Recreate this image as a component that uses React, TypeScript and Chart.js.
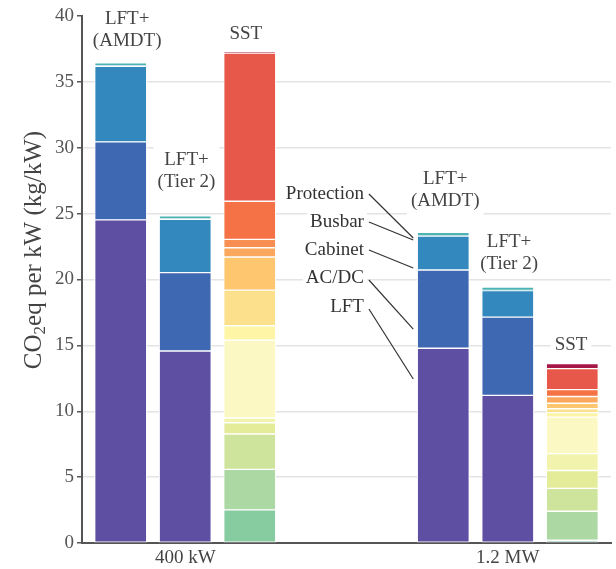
import React, { useEffect, useRef } from "react";
import { Chart, registerables } from "chart.js";

Chart.register(...registerables);

// ---------- data ----------
const groupLabels = ["400 kW", "1.2 MW"];
const groupTickPositions = [1, 6];

// LFT-based designs: 400 kW AMDT, 400 kW Tier 2, 1.2 MW AMDT, 1.2 MW Tier 2
const lftPositions = [0, 1, 5, 6];
const lftComponentNames = ["LFT", "AC/DC", "Cabinet", "Busbar", "Protection"];
const lftLFT = [24.52, 14.57, 14.78, 11.21];
const lftACDC = [5.92, 5.95, 5.94, 5.94];
const lftCabinet = [5.74, 4.05, 2.58, 2.0];
const lftBusbar = [0.03, 0.03, 0.03, 0.03];
const lftProtection = [0.24, 0.24, 0.25, 0.25];
const lftColors = ["#5e4fa2", "#3e68b1", "#3389bd", "#3f9fb8", "#4db3b3"];

// SST designs: 400 kW, 1.2 MW (components bottom -> top)
const sstPositions = [2, 7];
const sst400 = [2.52, 3.07, 2.68, 0.86, 0.36, 5.9, 1.1, 2.7, 2.52, 0.7, 0.63, 2.9, 11.25, 0.12];
const sst1200 = [0.21, 2.2, 1.74, 1.35, 1.28, 2.78, 0.33, 0.3, 0.42, 0.51, null, 0.52, 1.59, 0.39];
const sstColors = [
  "#87cba1", "#acd9a3", "#cee49c", "#e4ec99", "#f2f4ae", "#fbf8c3", "#fef5a6",
  "#fde08b", "#fec66f", "#fca75e", "#f98e52", "#f47245", "#e8584a", "#a51649",
];

// text annotations (label block: x in axis units, y = centre of last line in axis units)
const barLabels = [
  { x: 0.1, y: 38.1, lines: ["LFT+", "(AMDT)"] },
  { x: 1.02, y: 27.4, lines: ["LFT+", "(Tier 2)"] },
  { x: 1.94, y: 38.6, lines: ["SST"] },
  { x: 5.03, y: 25.96, lines: ["LFT+", "(AMDT)"] },
  { x: 6.02, y: 21.18, lines: ["LFT+", "(Tier 2)"] },
  { x: 6.98, y: 15.03, lines: ["SST"] },
];
const legendTextX = 3.77;
const legendTextY = [26.49, 24.36, 22.24, 20.11, 17.91]; // Protection, Busbar, Cabinet, AC/DC, LFT
const legendNames = ["Protection", "Busbar", "Cabinet", "AC/DC", "LFT"];
const legendStartY = [26.49, 24.36, 22.24, 19.96, 17.76];
const legendEndY = [23.15, 23.0, 20.87, 16.24, 12.45];

const FONT = "'Liberation Serif', 'DejaVu Serif', serif";
const TEXT = "#444444";

export default function App() {
  const ref = useRef<HTMLCanvasElement | null>(null);

  useEffect(() => {
    if (!ref.current) return;

    const lftSeries = [lftLFT, lftACDC, lftCabinet, lftBusbar, lftProtection];
    const datasets: any[] = [];
    lftSeries.forEach((vals, i) => {
      datasets.push({
        label: lftComponentNames[i],
        data: vals.map((v, j) => ({ x: lftPositions[j], y: v })),
        backgroundColor: lftColors[i],
      });
    });
    sstColors.forEach((c, i) => {
      datasets.push({
        label: "SST " + (i + 1),
        data: [
          { x: sstPositions[0], y: sst400[i] },
          { x: sstPositions[1], y: sst1200[i] },
        ],
        backgroundColor: c,
      });
    });
    datasets.forEach((d) => {
      d.borderColor = "#ffffff";
      d.borderWidth = 1;
      d.borderSkipped = false;
      d.barThickness = 52;
    });

    const annot = {
      id: "annot",
      beforeDatasetsDraw(chart: any) {
        const { ctx, scales } = chart;
        const xs = scales.x;
        const ys = scales.y;
        ctx.save();
        ctx.font = `19px ${FONT}`;
        ctx.textBaseline = "middle";
        // bar labels
        barLabels.forEach((b) => {
          const cx = xs.getPixelForValue(b.x);
          const cy = ys.getPixelForValue(b.y);
          const n = b.lines.length;
          const w = Math.max(...b.lines.map((l) => ctx.measureText(l).width));
          const top = cy - (n - 1) * 22 - 11 - 4;
          const bottom = cy + 11 + 4;
          ctx.fillStyle = "#ffffff";
          ctx.fillRect(cx - w / 2 - 4, top, w + 8, bottom - top);
          ctx.fillStyle = TEXT;
          ctx.textAlign = "center";
          b.lines.forEach((l, k) => {
            ctx.fillText(l, cx, cy - (n - 1 - k) * 22);
          });
        });
        // component legend
        const tx = xs.getPixelForValue(legendTextX);
        const ex = xs.getPixelForValue(lftPositions[2]) - 26 - 4;
        legendNames.forEach((name, i) => {
          const ty = ys.getPixelForValue(legendTextY[i]);
          const w = ctx.measureText(name).width;
          ctx.fillStyle = "#ffffff";
          ctx.fillRect(tx - w - 3, ty - 12, w + 6, 24);
          ctx.fillStyle = "#333333";
          ctx.textAlign = "right";
          ctx.fillText(name, tx, ty);
          ctx.strokeStyle = "#333333";
          ctx.lineWidth = 1.2;
          ctx.beginPath();
          ctx.moveTo(tx + 5, ys.getPixelForValue(legendStartY[i]));
          ctx.lineTo(ex, ys.getPixelForValue(legendEndY[i]));
          ctx.stroke();
        });
        ctx.restore();
      },
      afterDraw(chart: any) {
        const { ctx } = chart;
        ctx.save();
        ctx.fillStyle = TEXT;
        ctx.textBaseline = "middle";
        ctx.textAlign = "left";
        const big = `25px ${FONT}`;
        const small = `17px ${FONT}`;
        ctx.font = big;
        const a = "CO";
        const c = "eq per kW (kg/kW)";
        const wa = ctx.measureText(a).width;
        const wc = ctx.measureText(c).width;
        ctx.font = small;
        const wb = ctx.measureText("2").width;
        const total = wa + wb + wc;
        ctx.translate(34, 250);
        ctx.rotate(-Math.PI / 2);
        let x = -total / 2;
        ctx.font = big;
        ctx.fillText(a, x, 0);
        x += wa;
        ctx.font = small;
        ctx.fillText("2", x, 7);
        x += wb;
        ctx.font = big;
        ctx.fillText(c, x, 0);
        ctx.restore();
      },
    };

    const chart = new Chart(ref.current, {
      type: "bar",
      data: { datasets },
      plugins: [annot],
      options: {
        animation: false,
        responsive: true,
        maintainAspectRatio: false,
        layout: { padding: { left: 0, right: 5, top: 16, bottom: 0 } },
        plugins: { legend: { display: false }, tooltip: { enabled: false }, title: { display: false } },
        scales: {
          x: {
            type: "linear",
            stacked: true,
            offset: false,
            min: -0.6,
            max: 7.6,
            afterBuildTicks: (s: any) => {
              s.ticks = groupTickPositions.map((v) => ({ value: v }));
            },
            afterFit: (s: any) => {
              s.height = 26;
            },
            ticks: {
              autoSkip: false,
              maxRotation: 0,
              padding: 4,
              color: TEXT,
              font: { family: FONT, size: 19 },
              callback: (v: any) => {
                const i = groupTickPositions.indexOf(Number(v));
                return i >= 0 ? groupLabels[i] : "";
              },
            },
            grid: { display: false, drawTicks: false },
            border: { display: true, color: "#555555", width: 2 },
          },
          y: {
            stacked: true,
            min: 0,
            max: 40,
            afterFit: (s: any) => {
              s.width = 82;
            },
            ticks: {
              stepSize: 5,
              padding: 3,
              color: "#555555",
              font: { family: FONT, size: 19 },
            },
            grid: {
              color: (ctx: any) =>
                ctx.tick && (ctx.tick.value === 0 || ctx.tick.value === 40) ? "rgba(0,0,0,0)" : "#e4e4e4",
              lineWidth: 1.5,
              tickColor: "#555555",
              tickLength: 5,
              tickWidth: 1.5,
            },
            border: { display: true, color: "#555555", width: 2 },
            title: { display: false },
          },
        },
      },
    });
    return () => chart.destroy();
  }, []);

  return (
    <div style={{ position: "absolute", left: 0, top: 0, width: 616, height: 569, background: "#fff" }}>
      <canvas ref={ref} />
    </div>
  );
}
